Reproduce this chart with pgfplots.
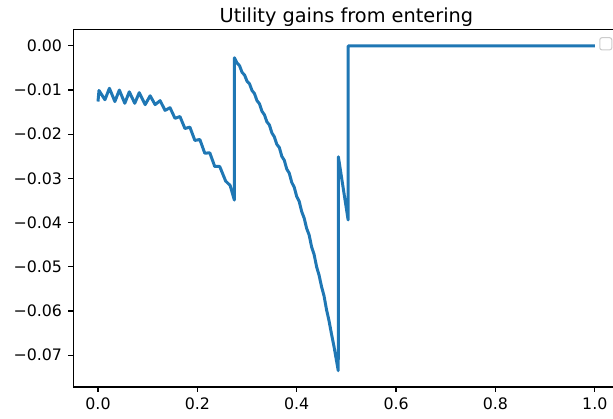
\documentclass[border=0pt]{standalone}
\usepackage{pgfplots}
\pgfplotsset{compat=1.18}
\usepackage{fontspec}
\setmainfont{DejaVu Sans}
\definecolor{mplblue}{HTML}{1F77B4}

\begin{document}
\begin{tikzpicture}
% the reference is cut off on the right, just past the 1.0 tick
\path[use as bounding box, clip] (-1.463,-0.64) rectangle (10.797,7.74);
\begin{axis}[
  scale only axis, width=10.93cm, height=7.15cm,
  xmin=-0.05, xmax=1.05, ymin=-0.0772, ymax=0.0037,
  scaled y ticks=false, scaled x ticks=false,
  axis line style={black, line width=0.7pt},
  tick pos=left, tick align=outside,
  major tick length=2.8pt, tick style={black, line width=0.7pt},
  xtick={0,0.2,0.4,0.6,0.8,1.0},
  xticklabels={0.0,0.2,0.4,0.6,0.8,1.0},
  ytick={-0.07,-0.06,-0.05,-0.04,-0.03,-0.02,-0.01,0},
  yticklabels={−0.07,−0.06,−0.05,−0.04,−0.03,−0.02,−0.01,0.00},
  tick label style={font=\fontsize{9}{11}\selectfont},
  title={Utility gains from entering},
  title style={font=\fontsize{11}{13}\selectfont, at={(0.5,1)}, anchor=base, yshift=-1.8pt},
]
\addplot[mplblue, line width=1.7pt, line join=round] coordinates {
 (0.000,-0.0126) (0.002,-0.0101) (0.014,-0.0122) (0.023,-0.0096)
 (0.034,-0.0126) (0.043,-0.0100) (0.054,-0.0130) (0.063,-0.0104)
 (0.074,-0.0130) (0.083,-0.0106) (0.095,-0.0133) (0.105,-0.0113)
 (0.115,-0.0133) (0.125,-0.0124) (0.135,-0.0146) (0.145,-0.0140)
 (0.155,-0.0164) (0.165,-0.0160) (0.175,-0.0187) (0.185,-0.0184)
 (0.195,-0.0214) (0.205,-0.0212) (0.215,-0.0243) (0.225,-0.0242)
 (0.235,-0.0273) (0.245,-0.0273) (0.257,-0.0306) (0.266,-0.0316)
 (0.2745,-0.0349)
 (0.2747,-0.0027)
 (0.280,-0.0039) (0.285,-0.0045) (0.290,-0.0060) (0.295,-0.0066)
 (0.300,-0.0080) (0.305,-0.0086) (0.310,-0.0101) (0.315,-0.0108)
 (0.320,-0.0124) (0.325,-0.0131) (0.330,-0.0148) (0.335,-0.0156)
 (0.340,-0.0172) (0.345,-0.0179) (0.350,-0.0197) (0.355,-0.0206)
 (0.360,-0.0223) (0.365,-0.0230) (0.370,-0.0250) (0.375,-0.0259)
 (0.380,-0.0279) (0.385,-0.0288) (0.390,-0.0309) (0.395,-0.0320)
 (0.400,-0.0341) (0.405,-0.0352) (0.410,-0.0375) (0.415,-0.0390)
 (0.420,-0.0413) (0.425,-0.0428) (0.430,-0.0455) (0.435,-0.0472)
 (0.440,-0.0500) (0.445,-0.0519) (0.450,-0.0545) (0.455,-0.0566)
 (0.460,-0.0597) (0.465,-0.0622) (0.470,-0.0652) (0.475,-0.0680)
 (0.4836,-0.0735)
 (0.4838,-0.0251) (0.5035,-0.0394)
 (0.5037,0.0000) (1.000,0.0000)
};
% empty legend frame, as matplotlib leaves it with no labelled series
\draw[black!20, fill=white, rounded corners=1.2pt, line width=0.6pt]
  (axis description cs:0.9637,0.943) rectangle (axis description cs:0.9856,0.977);
\end{axis}
\end{tikzpicture}
\end{document}
